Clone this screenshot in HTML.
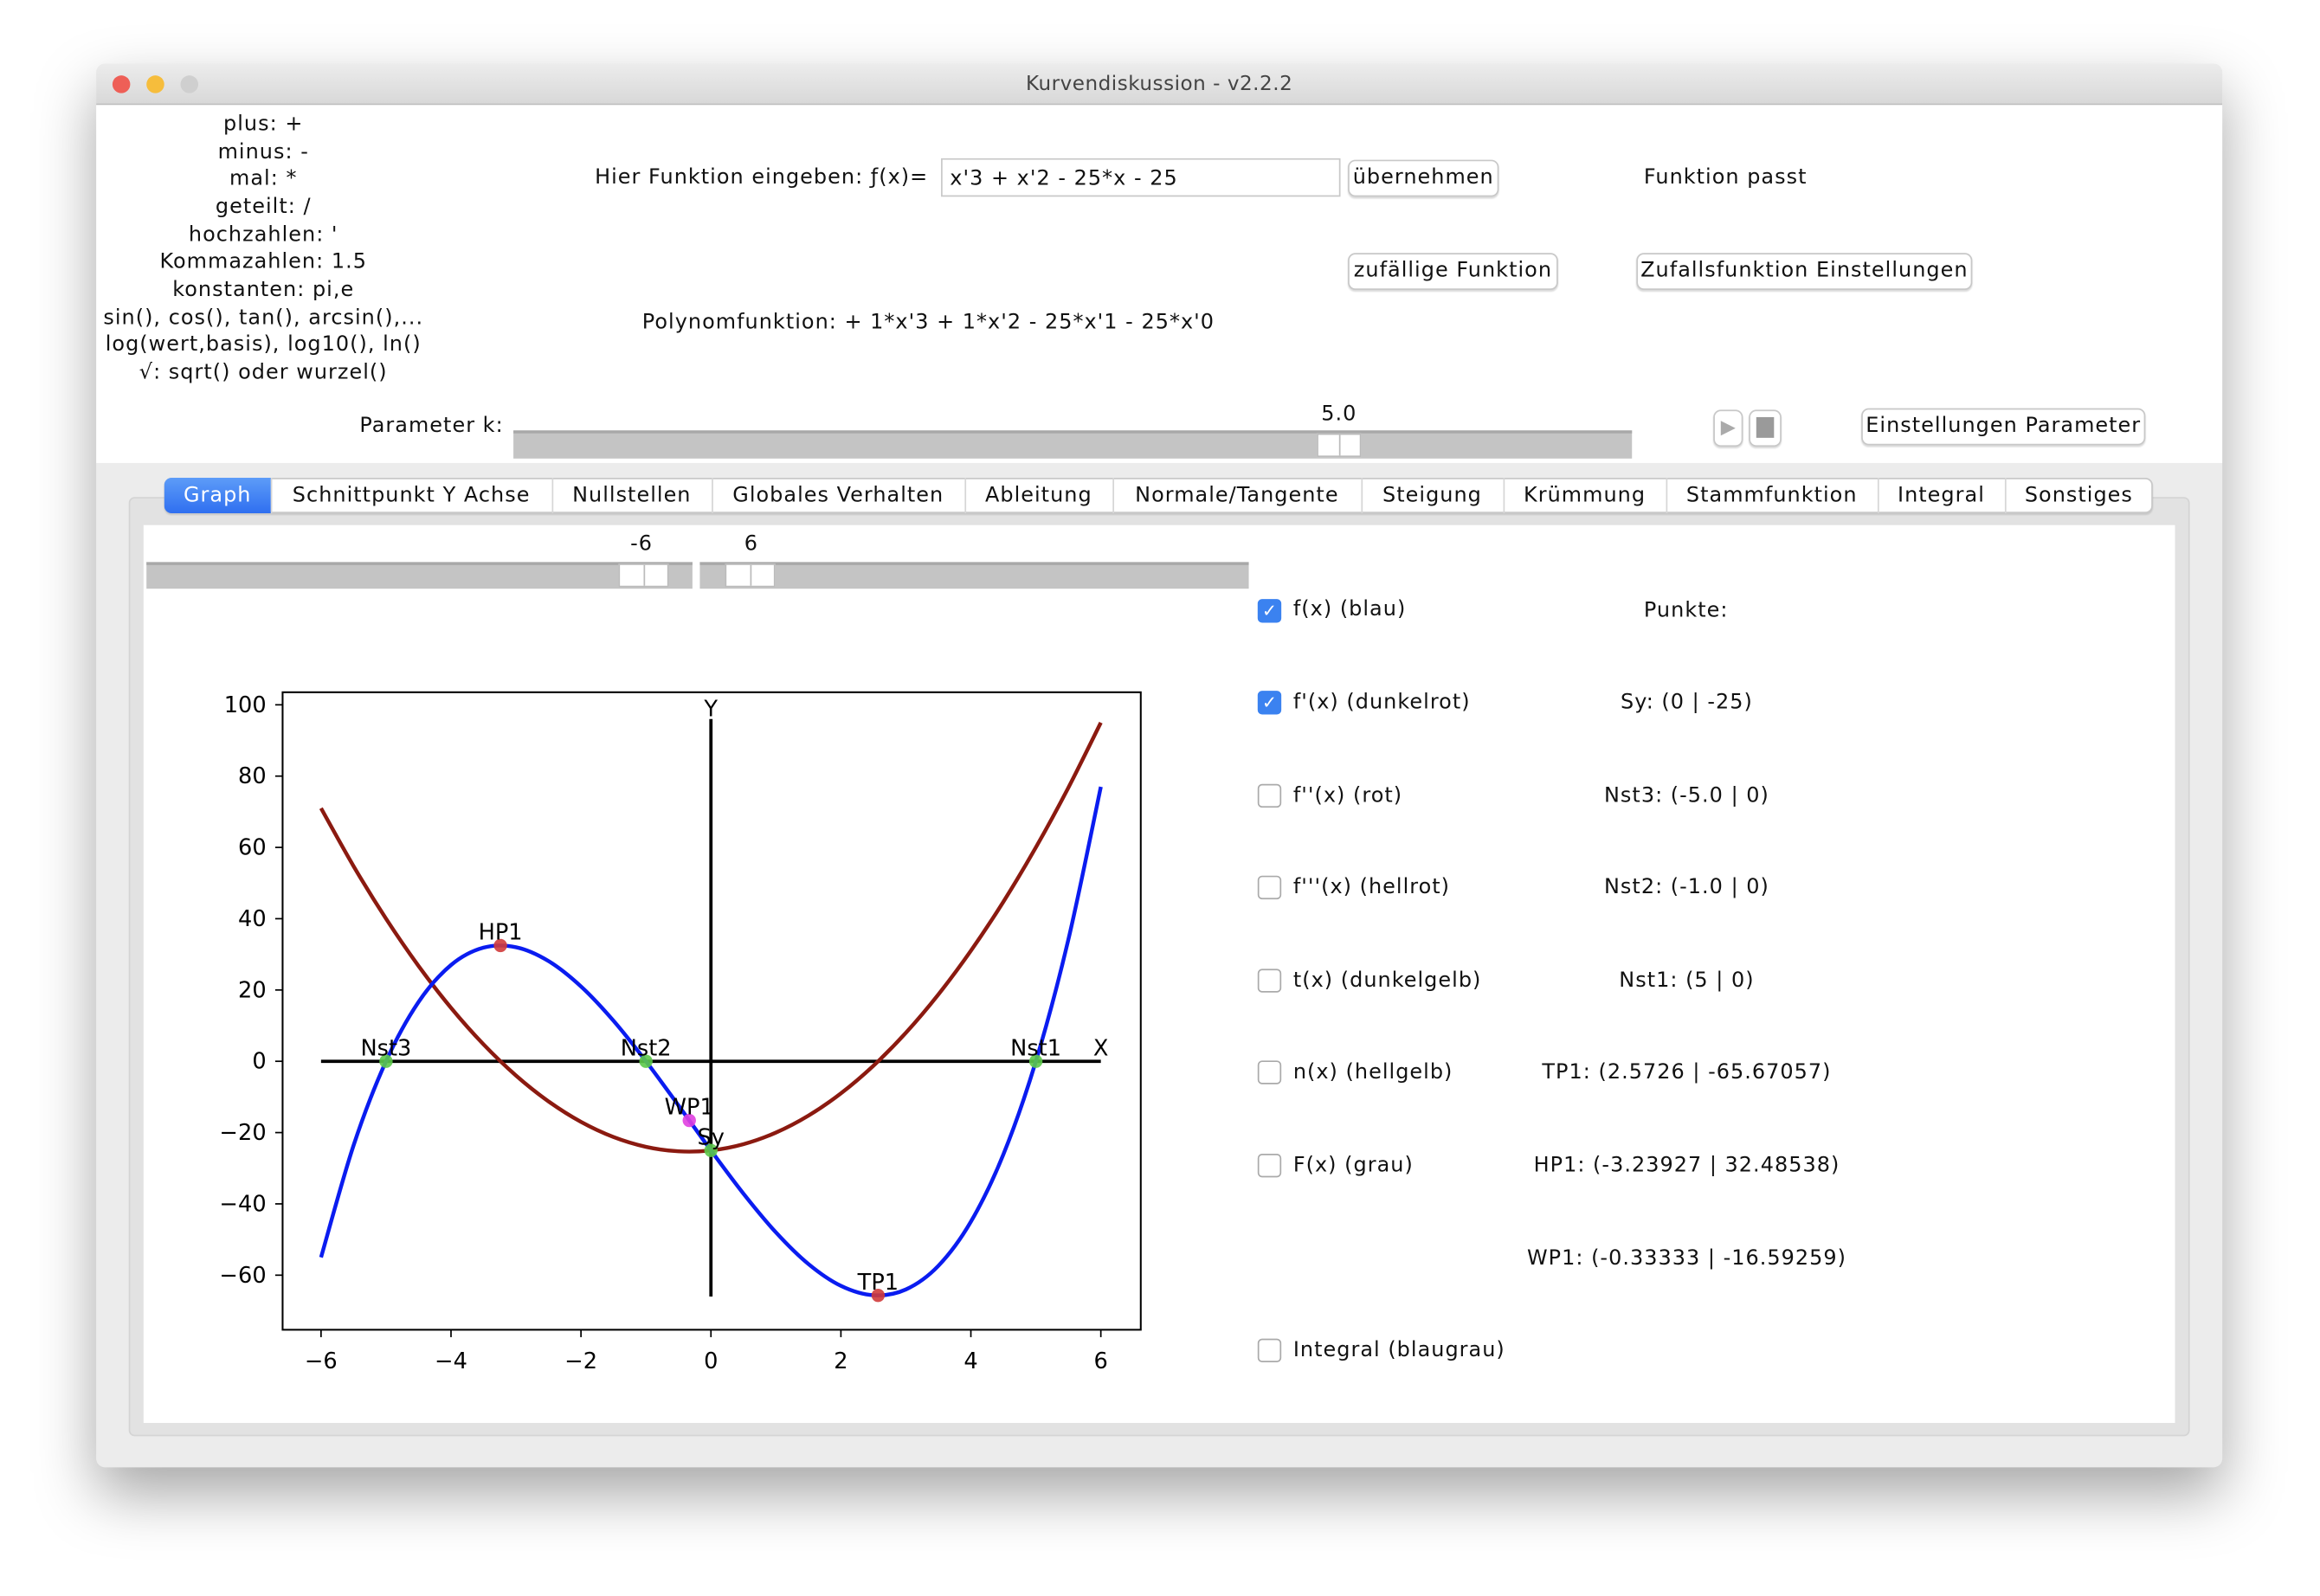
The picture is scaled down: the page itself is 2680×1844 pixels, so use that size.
<!DOCTYPE html>
<html><head><meta charset="utf-8">
<style>
html,body{margin:0;padding:0;width:2680px;height:1844px;overflow:hidden;background:#fff;}
#stage{position:absolute;left:0;top:0;width:1568px;height:1079px;transform:scale(1.70918,1.70899);transform-origin:0 0;font-family:"DejaVu Sans","Liberation Sans",sans-serif;font-size:14px;letter-spacing:0.6px;line-height:1.3;color:#111;}
.a{position:absolute;white-space:nowrap;}
.btn{position:absolute;border:1px solid #c8c8c8;border-radius:5px;background:#fff;box-shadow:0 1px 1px rgba(0,0,0,.15);text-align:center;font-size:14px;white-space:nowrap;}
.tab{position:absolute;top:323px;height:24px;line-height:24px;text-align:center;border-right:1px solid #d6d6d6;font-size:14px;white-space:nowrap;}
.cb{position:absolute;left:850px;width:14px;height:14px;border:1px solid #aaa;border-radius:3px;background:#fff;}
.cb.on{background:#3b82f0;border-color:#3b82f0;color:#fff;font-size:12px;line-height:14px;text-align:center;letter-spacing:0;}
.lbl{position:absolute;left:874px;font-size:14px;white-space:nowrap;}
.pt{position:absolute;width:300px;left:990px;text-align:center;font-size:14px;white-space:nowrap;}
.help{position:absolute;left:40px;width:276px;text-align:center;font-size:14px;white-space:nowrap;}
</style></head><body>
<div id="stage">
<div class="a" style="left:65px;top:43px;width:1437px;height:949px;border-radius:6px;background:#ececec;box-shadow:0 18px 40px rgba(0,0,0,.35);overflow:hidden;">
  <div class="a" style="left:0;top:0;width:1437px;height:27px;background:linear-gradient(#ececec,#d8d8d8);border-bottom:1px solid #bdbdbd;text-align:center;line-height:28px;font-size:13.5px;color:#444;letter-spacing:0.3px">Kurvendiskussion - v2.2.2</div>
  <div class="a" style="left:11px;top:8px;width:12px;height:12px;border-radius:6px;background:#ee5f57;"></div>
  <div class="a" style="left:34px;top:8px;width:12px;height:12px;border-radius:6px;background:#f6bd3c;"></div>
  <div class="a" style="left:57px;top:8px;width:12px;height:12px;border-radius:6px;background:#cfcfcf;"></div>
  <div class="a" style="left:0;top:28px;width:1437px;height:242px;background:#fff;"></div>
</div>

<div class="help" style="top:75px">plus: +</div>
<div class="help" style="top:94px">minus: -</div>
<div class="help" style="top:112px">mal: *</div>
<div class="help" style="top:131px">geteilt: /</div>
<div class="help" style="top:150px">hochzahlen: '</div>
<div class="help" style="top:168px">Kommazahlen: 1.5</div>
<div class="help" style="top:187px">konstanten: pi,e</div>
<div class="help" style="top:206px">sin(), cos(), tan(), arcsin(),...</div>
<div class="help" style="top:224px">log(wert,basis), log10(), ln()</div>
<div class="help" style="top:243px">√: sqrt() oder wurzel()</div>

<div class="a" style="left:402px;top:111px">Hier Funktion eingeben: ƒ(x)=</div>
<div class="a" style="left:636px;top:107px;width:270px;height:26px;border:1px solid #c8c8c8;line-height:27px;padding-left:5px;box-sizing:border-box;">x'3 + x'2 - 25*x - 25</div>
<div class="btn" style="left:911px;top:108px;width:100px;height:23px;line-height:23px">übernehmen</div>
<div class="a" style="left:1111px;top:111px">Funktion passt</div>
<div class="btn" style="left:911px;top:171px;width:140px;height:23px;line-height:23px">zufällige Funktion</div>
<div class="btn" style="left:1106px;top:171px;width:225px;height:23px;line-height:23px">Zufallsfunktion Einstellungen</div>
<div class="a" style="left:434px;top:209px">Polynomfunktion: + 1*x'3 + 1*x'2 - 25*x'1 - 25*x'0</div>

<div class="a" style="left:243px;top:279px">Parameter k:</div>
<div class="a" style="left:893px;top:271px">5.0</div>
<div class="a" style="left:347px;top:291px;width:756px;height:19px;background:#c4c4c4;border-top:2px solid #a8a8a8;box-sizing:border-box;"></div>
<div class="a" style="left:890px;top:293px;width:30px;height:16px;background:#fff;border:1px solid #bbb;box-sizing:border-box;"><div style="position:absolute;left:14px;top:0;width:1px;height:14px;background:#bbb"></div></div>
<div class="btn" style="left:1158px;top:277px;width:18px;height:23px;color:#aaa;font-size:13px;line-height:23px;letter-spacing:0">▶</div>
<div class="btn" style="left:1182px;top:277px;width:20px;height:23px"><div style="position:absolute;left:4px;top:4px;width:12px;height:14px;background:#9a9a9a"></div></div>
<div class="btn" style="left:1258px;top:276px;width:190px;height:23px;line-height:23px">Einstellungen Parameter</div>

<div class="a" style="left:87px;top:336px;width:1393px;height:635px;background:#e2e2e2;border:1px solid #d4d4d4;border-radius:4px;box-sizing:border-box"></div>
<div class="a" style="left:97px;top:355px;width:1373px;height:607px;background:#fff"></div>
<div class="a" style="left:111px;top:323px;width:1344px;height:24px;background:#fff;border:1px solid #c8c8c8;border-radius:5px;box-sizing:border-box;box-shadow:0 1px 1px rgba(0,0,0,.12)"></div>
<div class="tab" style="left:111px;width:72px;background:linear-gradient(#5d9cf8,#2f6ff0);color:#fff;border-radius:5px 0 0 5px">Graph</div>
<div class="tab" style="left:183px;width:190px">Schnittpunkt Y Achse</div>
<div class="tab" style="left:373px;width:108px">Nullstellen</div>
<div class="tab" style="left:481px;width:171px">Globales Verhalten</div>
<div class="tab" style="left:652px;width:100px">Ableitung</div>
<div class="tab" style="left:752px;width:168px">Normale/Tangente</div>
<div class="tab" style="left:920px;width:96px">Steigung</div>
<div class="tab" style="left:1016px;width:110px">Krümmung</div>
<div class="tab" style="left:1126px;width:143px">Stammfunktion</div>
<div class="tab" style="left:1269px;width:86px">Integral</div>
<div class="tab" style="left:1355px;width:100px;border-right:none">Sonstiges</div>

<div class="a" style="left:426px;top:359px">-6</div>
<div class="a" style="left:503px;top:359px">6</div>
<div class="a" style="left:99px;top:380px;width:369px;height:18px;background:#c4c4c4;border-top:2px solid #a8a8a8;box-sizing:border-box"></div>
<div class="a" style="left:418px;top:381px;width:34px;height:16px;background:#fff;border:1px solid #bbb;box-sizing:border-box"><div style="position:absolute;left:16px;top:0;width:1px;height:14px;background:#bbb"></div></div>
<div class="a" style="left:473px;top:380px;width:371px;height:18px;background:#c4c4c4;border-top:2px solid #a8a8a8;box-sizing:border-box"></div>
<div class="a" style="left:490px;top:381px;width:34px;height:16px;background:#fff;border:1px solid #bbb;box-sizing:border-box"><div style="position:absolute;left:16px;top:0;width:1px;height:14px;background:#bbb"></div></div>

<div class="cb on" style="top:405px">✓</div><div class="lbl" style="top:403px">f(x) (blau)</div>
<div class="cb on" style="top:467px">✓</div><div class="lbl" style="top:466px">f'(x) (dunkelrot)</div>
<div class="cb" style="top:530px"></div><div class="lbl" style="top:529px">f''(x) (rot)</div>
<div class="cb" style="top:592px"></div><div class="lbl" style="top:591px">f'''(x) (hellrot)</div>
<div class="cb" style="top:655px"></div><div class="lbl" style="top:654px">t(x) (dunkelgelb)</div>
<div class="cb" style="top:717px"></div><div class="lbl" style="top:716px">n(x) (hellgelb)</div>
<div class="cb" style="top:780px"></div><div class="lbl" style="top:779px">F(x) (grau)</div>
<div class="cb" style="top:905px"></div><div class="lbl" style="top:904px">Integral (blaugrau)</div>

<div class="a" style="left:1111px;top:404px">Punkte:</div>
<div class="pt" style="top:466px">Sy: (0 | -25)</div>
<div class="pt" style="top:529px">Nst3: (-5.0 | 0)</div>
<div class="pt" style="top:591px">Nst2: (-1.0 | 0)</div>
<div class="pt" style="top:654px">Nst1: (5 | 0)</div>
<div class="pt" style="top:716px">TP1: (2.5726 | -65.67057)</div>
<div class="pt" style="top:779px">HP1: (-3.23927 | 32.48538)</div>
<div class="pt" style="top:842px">WP1: (-0.33333 | -16.59259)</div>

<svg id="chart" class="a" style="left:0;top:0;letter-spacing:0" width="1568" height="1079"></svg>
</div>

<script>
const xSamples=[-6,-5.5,-5,-4.5,-4,-3.5,-3,-2.5,-2,-1.5,-1,-0.5,0,0.5,1,1.5,2,2.5,3,3.5,4,4.5,5,5.5,6];
const fValues=[-55,-23.625,0,16.625,27,31.875,32,28.125,21,11.375,0,-12.375,-25,-37.125,-48,-56.875,-63,-65.625,-64,-57.375,-45,-26.125,0,34.125,77];
const f1Values=[71,54.75,40,26.75,15,4.75,-4,-11.25,-17,-21.25,-24,-25.25,-25,-23.25,-20,-15.25,-9,-1.25,8,18.75,31,44.75,60,76.75,95];
const xTicks=[-6,-4,-2,0,2,4,6];
const yTicks=[-60,-40,-20,0,20,40,60,80,100];
const ptNames=["Nst3","Nst2","Nst1","HP1","TP1","WP1","Sy"];
const ptX=[-5,-1,5,-3.23927,2.5726,-0.33333,0];
const ptY=[0,0,0,32.48538,-65.67057,-16.59259,-25];
const ptColors=["#5cc94a","#5cc94a","#5cc94a","#d03b3b","#d03b3b","#e040e0","#5cc94a"];

const NS="http://www.w3.org/2000/svg";
const svg=document.getElementById('chart');
const X=v=>480.5+v*43.92;
const Y=v=>717.5-v*2.41;
function mk(t,a,p){const e=document.createElementNS(NS,t);for(const k in a)e.setAttribute(k,a[k]);(p||svg).appendChild(e);return e;}
function pathFrom(xs,ys){
  const P=xs.map((x,i)=>[X(x),Y(ys[i])]);
  let d='M'+P[0][0]+','+P[0][1];
  for(let i=0;i<P.length-1;i++){
    const p0=P[i-1]||P[i],p1=P[i],p2=P[i+1],p3=P[i+2]||P[i+1];
    const c1=[p1[0]+(p2[0]-p0[0])/6,p1[1]+(p2[1]-p0[1])/6];
    const c2=[p2[0]-(p3[0]-p1[0])/6,p2[1]-(p3[1]-p1[1])/6];
    d+=' C'+c1+' '+c2+' '+p2;
  }
  return d;
}
const frame=mk('rect',{x:191,y:468,width:580,height:431,fill:'none',stroke:'#000','stroke-width':1.2});


xTicks.forEach(t=>{
  const l=mk('line',{x1:X(t),x2:X(t),y1:899,y2:904,stroke:'#000'});
  
  
  const tx=mk('text',{x:X(t),y:925,'text-anchor':'middle','font-size':15,'font-family':'DejaVu Sans, sans-serif'});
  tx.textContent=(t<0?'\u2212'+(-t):t);
  
  
});
yTicks.forEach(t=>{
  const l=mk('line',{x1:186,x2:191,y1:Y(t),y2:Y(t),stroke:'#000'});
  
  
  const tx=mk('text',{x:180,y:Y(t)+5,'text-anchor':'end','font-size':15,'font-family':'DejaVu Sans, sans-serif'});
  tx.textContent=(t<0?'\u2212'+(-t):t);
  
  
});
const xa=mk('line',{x1:X(-6),x2:X(6),y1:Y(0),y2:Y(0),stroke:'#000','stroke-width':2.2});


const ya=mk('line',{x1:X(0),x2:X(0),y1:Y(96),y2:Y(-66),stroke:'#000','stroke-width':2.2});


const lx=mk('text',{x:X(6),y:Y(0)-4,'text-anchor':'middle','font-size':15,'font-family':'DejaVu Sans, sans-serif'});lx.textContent='X';


const ly=mk('text',{x:X(0),y:Y(96)-2,'text-anchor':'middle','font-size':15,'font-family':'DejaVu Sans, sans-serif'});ly.textContent='Y';


const c1=mk('path',{d:pathFrom(xSamples,f1Values),fill:'none',stroke:'#8b1a10','stroke-width':2.6});


const c0=mk('path',{d:pathFrom(xSamples,fValues),fill:'none',stroke:'#0a1cf0','stroke-width':2.6});


ptNames.forEach((n,i)=>{
  const c=mk('circle',{cx:X(ptX[i]),cy:Y(ptY[i]),r:4.5,fill:ptColors[i],opacity:0.9});
  
  
  const t=mk('text',{x:X(ptX[i]),y:Y(ptY[i])-4,'text-anchor':'middle','font-size':15,'font-family':'DejaVu Sans, sans-serif'});
  t.textContent=n;
  
  
});
</script>
</body></html>
